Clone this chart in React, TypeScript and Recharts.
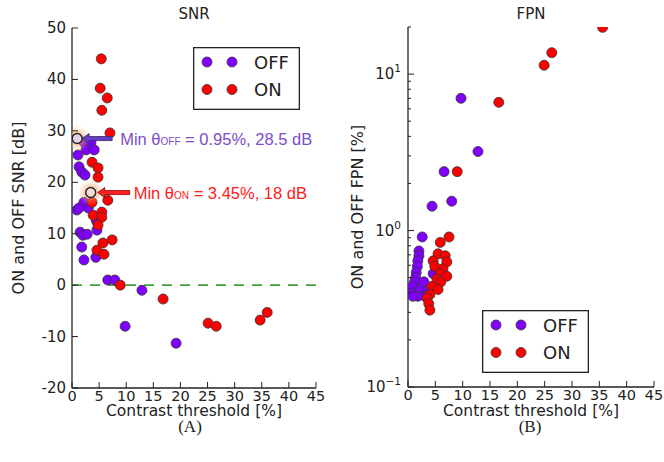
import React from 'react';
import { ScatterChart, Scatter, XAxis, YAxis, ReferenceLine, Legend } from 'recharts';

// ---------- data ----------
const xTicks = [0, 5, 10, 15, 20, 25, 30, 35, 40, 45];
const snrTicks = [-20, -10, 0, 10, 20, 30, 40, 50];
const fpnTicks = [0.1, 0.2, 0.3, 0.4, 0.5, 0.6, 0.7, 0.8, 0.9, 1, 2, 3, 4, 5, 6, 7, 8, 9, 10, 20];
const fpnMajor = [0.1, 1, 10];

const snrOff: [number, number][] = [
  [2.2, 27.8], [3.5, 27.8], [2.6, 26.3], [4.1, 26.3], [1.1, 25.3], [1.3, 23.0], [1.8, 22.0], [2.4, 21.4],
  [2.2, 16.1], [0.9, 14.6], [3.0, 15.0], [1.3, 15.0], [4.5, 12.5], [1.5, 10.3], [2.0, 9.7], [2.8, 9.9],
  [4.6, 10.7], [1.8, 7.4], [2.2, 4.9], [4.4, 5.4], [6.6, 1.0], [7.9, 1.0], [12.9, -1.0], [9.8, -8.0], [19.2, -11.3],
];
const snrOn: [number, number][] = [
  [5.4, 44.0], [5.2, 38.3], [6.5, 36.4], [5.5, 34.0], [7.0, 29.6], [3.7, 23.9], [4.8, 22.8], [4.8, 21.0],
  [6.6, 16.5], [3.7, 16.1], [3.9, 13.6], [5.5, 14.2], [5.5, 13.2], [4.8, 11.7], [7.4, 8.8], [5.7, 8.2],
  [4.6, 6.8], [5.9, 6.0], [8.9, 0.0], [16.8, -2.7], [25.1, -7.4], [26.6, -8.0], [34.7, -6.8], [36.0, -5.3],
];
const minOff = [{ x: 0.95, y: 28.5 }];
const minOn = [{ x: 3.45, y: 18 }];

const fpnOff: [number, number][] = [
  [9.7, 7.0], [12.8, 3.2], [6.6, 2.38], [8.0, 1.54], [4.4, 1.43], [2.6, 0.91], [2.0, 0.74], [2.0, 0.69],
  [1.8, 0.64], [1.7, 0.59], [1.5, 0.54], [1.4, 0.5], [1.2, 0.47], [0.8, 0.44], [0.6, 0.4], [2.2, 0.42],
  [2.9, 0.47], [3.5, 0.41], [3.1, 0.38], [1.8, 0.38], [0.9, 0.38], [4.6, 0.53],
];
const fpnOn: [number, number][] = [
  [35.6, 19.9], [26.3, 13.7], [24.9, 11.4], [16.6, 6.6], [9.0, 2.38], [5.9, 0.84], [7.5, 0.91], [5.5, 0.71],
  [6.8, 0.69], [4.6, 0.64], [7.1, 0.63], [4.9, 0.59], [6.4, 0.57], [5.9, 0.53], [7.1, 0.51], [5.3, 0.49],
  [6.0, 0.47], [4.4, 0.44], [5.5, 0.42], [4.0, 0.39], [3.5, 0.37], [3.8, 0.34], [4.0, 0.31],
];

const toPts = (a: [number, number][]) => a.map(([x, y]) => ({ x, y }));

// ---------- styles ----------
const PURPLE = '#7f00ff';
const RED = '#ff0000';
const INK = '#222';
const FONT = "'DejaVu Sans', sans-serif";
const AX = { stroke: INK, strokeWidth: 1.3 };

const Dot = (color: string) => (p: any) =>
  <circle cx={p.cx} cy={p.cy} r={5} fill={color} stroke="#333" strokeWidth={0.8} />;

const BottomTick = (p: any) => (
  <g>
    <line x1={p.x} x2={p.x} y1={p.y} y2={p.y - 6} stroke={INK} strokeWidth={1} />
    <text x={p.x} y={p.y + 12.5} textAnchor="middle" fontSize={14.5} fontFamily={FONT} fill={INK}>{p.payload.value}</text>
  </g>
);
const TopTick = (p: any) => <line x1={p.x} x2={p.x} y1={p.y} y2={p.y + 6} stroke={INK} strokeWidth={1} />;
const LeftTick = (p: any) => (
  <g>
    <line x1={p.x} x2={p.x + 6} y1={p.y} y2={p.y} stroke={INK} strokeWidth={1} />
    <text x={p.x - 6} y={p.y + 5} textAnchor="end" fontSize={15} fontFamily={FONT} fill={INK}>{p.payload.value}</text>
  </g>
);
const RightTick = (p: any) => <line x1={p.x} x2={p.x - 6} y1={p.y} y2={p.y} stroke={INK} strokeWidth={1} />;

const isMajor = (v: number) => fpnMajor.some((m) => Math.abs(m - v) < 1e-9);
const LogLeftTick = (p: any) => {
  const v = p.payload.value;
  const major = isMajor(v);
  const e = Math.round(Math.log10(v));
  return (
    <g>
      <line x1={p.x} x2={p.x + (major ? 6 : 3)} y1={p.y} y2={p.y} stroke={INK} strokeWidth={1} />
      {major && (
        <text x={p.x - 7} y={p.y + 5} textAnchor="end" fontSize={15} fontFamily={FONT} fill={INK}>
          10<tspan dy={-7} fontSize={10.5}>{e < 0 ? '\u2212' + Math.abs(e) : e}</tspan>
        </text>
      )}
    </g>
  );
};
const LogRightTick = (p: any) => {
  const major = isMajor(p.payload.value);
  return <line x1={p.x} x2={p.x - (major ? 6 : 3)} y1={p.y} y2={p.y} stroke={INK} strokeWidth={1} />;
};

const MinShape = (txtColor: string, arrowFill: string, arrowStroke: string, hl: string, sub: string, tip: number, tail: number, gid: string) =>
  (p: any) => {
    const { cx, cy, payload } = p;
    const h = tip + 7;
    const pts = `${cx + tip},${cy} ${cx + h},${cy - 5} ${cx + h},${cy - 2} ${cx + tail},${cy - 2} ${cx + tail},${cy + 2} ${cx + h},${cy + 2} ${cx + h},${cy + 5}`;
    return (
      <g>
        <defs>
          <radialGradient id={gid}>
            <stop offset="0%" stopColor="#f09050" stopOpacity={0.75} />
            <stop offset="55%" stopColor="#f4a870" stopOpacity={0.45} />
            <stop offset="100%" stopColor="#f8c090" stopOpacity={0} />
          </radialGradient>
        </defs>
        <circle cx={cx} cy={cy} r={13} fill={`url(#${gid})`} />
        <circle cx={cx} cy={cy} r={5} fill={hl} stroke={INK} strokeWidth={1.4} />
        <polygon points={pts} fill={arrowFill} stroke={arrowStroke} strokeWidth={0.8} />
        <text x={cx + 43} y={cy + 6.5} fontSize={16.5} fontFamily="'Liberation Sans', Arial, sans-serif" fill={txtColor}>
          Min θ<tspan fontSize={10}>{sub}</tspan>{` = ${payload.x}%, ${payload.y} dB`}
        </text>
      </g>
    );
  };

const LegendContent = (props: any) => {
  const items = (props.payload || []).filter((it: any) => it.type !== 'none');
  return (
    <svg width={107} height={63} style={{ display: 'block' }}>
      <rect x={0.65} y={0.65} width={105.7} height={61.7} fill="#fff" stroke={INK} strokeWidth={1.3} />
      {items.map((it: any, i: number) => {
        const cy = 15 + i * 27.5;
        return (
          <g key={i}>
            <circle cx={14} cy={cy} r={5} fill={it.color} stroke="#333" strokeWidth={0.8} />
            <circle cx={39} cy={cy} r={5} fill={it.color} stroke="#333" strokeWidth={0.8} />
            <text x={61} y={cy + 6.5} fontSize={18} fontFamily={FONT} fill={INK}>{it.value}</text>
          </g>
        );
      })}
    </svg>
  );
};

const commonX = { type: 'number' as const, dataKey: 'x', domain: [0, 45], ticks: xTicks, interval: 0, tickSize: 0, tickMargin: 0, tickLine: false, axisLine: AX, allowDataOverflow: true };

function SnrChart() {
  return (
    <ScatterChart width={330} height={462} margin={{ top: 28, right: 14, bottom: 44, left: 0 }}>
      <XAxis xAxisId="b" {...commonX} height={30} tick={BottomTick} />
      <XAxis xAxisId="t" {...commonX} orientation="top" height={0} tick={TopTick} />
      <YAxis yAxisId="l" type="number" dataKey="y" domain={[-20, 50]} ticks={snrTicks} interval={0} tickSize={0} tickMargin={0}
        tickLine={false} axisLine={AX} width={72} tick={LeftTick} allowDataOverflow />
      <YAxis yAxisId="r" orientation="right" type="number" dataKey="y" domain={[-20, 50]} ticks={snrTicks} interval={0} tickSize={0}
        tickMargin={0} tickLine={false} axisLine={AX} width={0} tick={RightTick} allowDataOverflow />
      <ReferenceLine xAxisId="b" yAxisId="l" y={0} stroke="#3da33d" strokeWidth={1.6} strokeDasharray="10 8" />
      <Scatter xAxisId="b" yAxisId="l" name="OFF" data={toPts(snrOff)} fill={PURPLE} shape={Dot(PURPLE)} isAnimationActive={false} />
      <Scatter xAxisId="b" yAxisId="l" name="ON" data={toPts(snrOn)} fill={RED} shape={Dot(RED)} isAnimationActive={false} />
      <Scatter xAxisId="b" yAxisId="l" name="minOff" legendType="none" data={minOff} fill={PURPLE}
        shape={MinShape('#7d4cc9', '#6a3dc8', '#2a2a6a', '#e4d4e8', 'OFF', 5, 35, 'gOff')} isAnimationActive={false} />
      <Scatter xAxisId="b" yAxisId="l" name="minOn" legendType="none" data={minOn} fill={RED}
        shape={MinShape('#ff1a1a', '#ff2020', '#8b0000', '#f2dcd4', 'ON', 7, 39, 'gOn')} isAnimationActive={false} />
      <Legend layout="horizontal" verticalAlign="middle" align="center" content={LegendContent}
        wrapperStyle={{ left: 193, top: 47, width: 107, height: 63 }} />
    </ScatterChart>
  );
}

function FpnChart() {
  return (
    <ScatterChart width={334} height={462} margin={{ top: 27, right: 10, bottom: 44, left: 0 }}>
      <XAxis xAxisId="b" {...commonX} height={31} tick={BottomTick} />
      <XAxis xAxisId="t" {...commonX} orientation="top" height={0} tick={TopTick} />
      <YAxis yAxisId="l" type="number" dataKey="y" scale="log" domain={[0.1, 20]} ticks={fpnTicks} interval={0} tickSize={0}
        tickMargin={0} tickLine={false} axisLine={AX} width={78} tick={LogLeftTick} allowDataOverflow />
      <YAxis yAxisId="r" orientation="right" type="number" dataKey="y" scale="log" domain={[0.1, 20]} ticks={fpnTicks} interval={0}
        tickSize={0} tickMargin={0} tickLine={false} axisLine={AX} width={0} tick={LogRightTick} allowDataOverflow />
      <Scatter xAxisId="b" yAxisId="l" name="OFF" data={toPts(fpnOff)} fill={PURPLE} shape={Dot(PURPLE)} isAnimationActive={false} />
      <Scatter xAxisId="b" yAxisId="l" name="ON" data={toPts(fpnOn)} fill={RED} shape={Dot(RED)} isAnimationActive={false} />
      <Legend layout="horizontal" verticalAlign="middle" align="center" content={LegendContent}
        wrapperStyle={{ left: 152, top: 310, width: 107, height: 63 }} />
    </ScatterChart>
  );
}

export default function App() {
  return (
    <div style={{ position: 'absolute', left: 0, top: 0, width: 664, height: 462, background: '#fff', overflow: 'hidden' }}>
      <div style={{ position: 'absolute', left: 0, top: 0 }}><SnrChart /></div>
      <div style={{ position: 'absolute', left: 330, top: 0 }}><FpnChart /></div>
      <svg width={664} height={462} style={{ position: 'absolute', left: 0, top: 0, pointerEvents: 'none' }}>
        <g fontFamily={FONT} fill={INK}>
          <text x={194} y={19} fontSize={15} textAnchor="middle">SNR</text>
          <text x={531} y={19} fontSize={15} textAnchor="middle">FPN</text>
          <text x={194} y={416} fontSize={15.5} textAnchor="middle">Contrast threshold [%]</text>
          <text x={531} y={416} fontSize={15.5} textAnchor="middle">Contrast threshold [%]</text>
          <text x={24} y={208} fontSize={16} textAnchor="middle" transform="rotate(-90 24 208)">ON and OFF SNR [dB]</text>
          <text x={363} y={207} fontSize={16} textAnchor="middle" transform="rotate(-90 363 207)">ON and OFF FPN [%]</text>
        </g>
        <g fontFamily="'Liberation Serif', 'Times New Roman', serif" fill={INK} fontSize={17}>
          <text x={190} y={432} textAnchor="middle">(A)</text>
          <text x={530} y={432} textAnchor="middle">(B)</text>
        </g>
      </svg>
    </div>
  );
}
